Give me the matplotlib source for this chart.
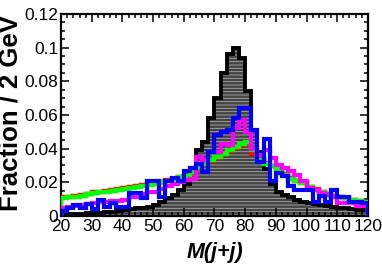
import numpy as np
import matplotlib
matplotlib.use("Agg")
import matplotlib.pyplot as plt
from matplotlib.ticker import MultipleLocator, FuncFormatter

# 2 GeV bins from 20 to 120
edges = np.arange(20, 122, 2)

black = [0.0008, 0.001, 0.0012, 0.0014, 0.0016, 0.0018, 0.002, 0.0023, 0.0026, 0.003,
         0.0035, 0.004, 0.0045, 0.005, 0.0056, 0.0065, 0.0085, 0.0105, 0.0125, 0.0155,
         0.019, 0.028, 0.039, 0.044, 0.058, 0.070, 0.085, 0.096, 0.100, 0.094,
         0.074, 0.051, 0.038, 0.028, 0.019, 0.0145, 0.0125, 0.011, 0.0095, 0.0085,
         0.0077, 0.007, 0.0066, 0.006, 0.0056, 0.005, 0.0045, 0.004, 0.0036, 0.0033]

green = [0.0105, 0.011, 0.0115, 0.012, 0.0128, 0.0135, 0.014, 0.0145, 0.015, 0.0155,
         0.016, 0.0165, 0.017, 0.018, 0.0185, 0.019, 0.020, 0.021, 0.022, 0.023,
         0.024, 0.026, 0.0285, 0.031, 0.033, 0.035, 0.037, 0.039, 0.041, 0.043,
         0.044, 0.039, 0.0335, 0.031, 0.0295, 0.028, 0.0245, 0.022, 0.0205, 0.0195,
         0.017, 0.0155, 0.014, 0.0125, 0.0115, 0.011, 0.0105, 0.0095, 0.0088, 0.008]

red = [0.011, 0.0115, 0.012, 0.0126, 0.0133, 0.014, 0.0145, 0.015, 0.0155, 0.016,
       0.0165, 0.017, 0.0175, 0.0183, 0.0188, 0.0193, 0.0203, 0.0212, 0.0222, 0.0232,
       0.0242, 0.026, 0.028, 0.0305, 0.0325, 0.0345, 0.0365, 0.0385, 0.0405, 0.042,
       0.0435, 0.037, 0.034, 0.0315, 0.0295, 0.0285, 0.025, 0.0225, 0.021, 0.0198,
       0.0172, 0.0158, 0.0142, 0.0128, 0.0118, 0.0112, 0.0107, 0.0097, 0.009, 0.0082]

magenta = [0.0045, 0.0055, 0.006, 0.0065, 0.007, 0.0075, 0.008, 0.0085, 0.0088, 0.009,
           0.0095, 0.011, 0.0115, 0.013, 0.014, 0.0145, 0.016, 0.0175, 0.019, 0.020,
           0.0215, 0.022, 0.035, 0.0335, 0.038, 0.038, 0.043, 0.042, 0.052, 0.057,
           0.050, 0.040, 0.036, 0.039, 0.0345, 0.0305, 0.0285, 0.0265, 0.0245, 0.0205,
           0.0165, 0.0155, 0.0135, 0.0125, 0.0115, 0.0076, 0.0076, 0.0075, 0.0062, 0.0058]

blue = [0.0028, 0.0045, 0.0066, 0.0046, 0.0072, 0.0042, 0.0092, 0.0055, 0.0075, 0.0052,
        0.0052, 0.0138, 0.0135, 0.0105, 0.0205, 0.0205, 0.0115, 0.021, 0.0225, 0.0205,
        0.0265, 0.0285, 0.031, 0.026, 0.038, 0.048, 0.050, 0.051, 0.058, 0.064,
        0.064, 0.051, 0.032, 0.046, 0.0205, 0.0255, 0.0235, 0.0175, 0.0155, 0.0155,
        0.0155, 0.0085, 0.012, 0.0085, 0.0155, 0.0115, 0.011, 0.0085, 0.0085, 0.0076]

xticks = np.arange(20, 121, 10)
yticks = np.arange(0, 0.1201, 0.02)

plt.rcParams['hatch.linewidth'] = 0.6
plt.rcParams['font.family'] = ['Liberation Sans', 'DejaVu Sans']

fig = plt.figure(figsize=(3.82, 2.73), dpi=100)
ax = fig.add_axes([0.160, 0.209, 0.803, 0.740])

# black reference histogram, grey striped fill
ax.stairs(black, edges, fill=True, facecolor='#444444', edgecolor='#aaaaaa',
          hatch='-----', linewidth=0, zorder=1)
ax.stairs(black, edges, color='black', linewidth=2.8, zorder=2)

ax.stairs(red, edges, color='#ff0000', linewidth=3.2, zorder=3)
ax.stairs(green, edges, color='#00ff00', linewidth=3.2, zorder=4)
ax.stairs(magenta, edges, color='#ff00ff', linewidth=3.0, zorder=5)
ax.stairs(blue, edges, color='#0000ff', linewidth=3.0, zorder=6)

ax.set_xlim(20, 120)
ax.set_ylim(0, 0.12)
ax.set_xticks(xticks)
ax.set_yticks(yticks)
ax.xaxis.set_minor_locator(MultipleLocator(2))
ax.yaxis.set_minor_locator(MultipleLocator(0.005))
ax.yaxis.set_major_formatter(FuncFormatter(lambda v, p: '%g' % round(v, 3)))

ax.tick_params(which='both', direction='in', top=True, right=True, width=1.1)
ax.tick_params(which='major', length=6, labelsize=12.5, pad=2)
ax.tick_params(which='minor', length=3)
for s in ax.spines.values():
    s.set_linewidth(1.6)

ax.set_ylabel('Fraction / 2 GeV', fontsize=18.5, fontweight='bold')
ax.yaxis.set_label_coords(-0.125, 0.51)
ax.set_xlabel('M(j+j)', fontsize=15.5, fontweight='bold', fontstyle='italic')
ax.xaxis.set_label_coords(0.5, -0.13)

fig.savefig('out.png', dpi=100)
